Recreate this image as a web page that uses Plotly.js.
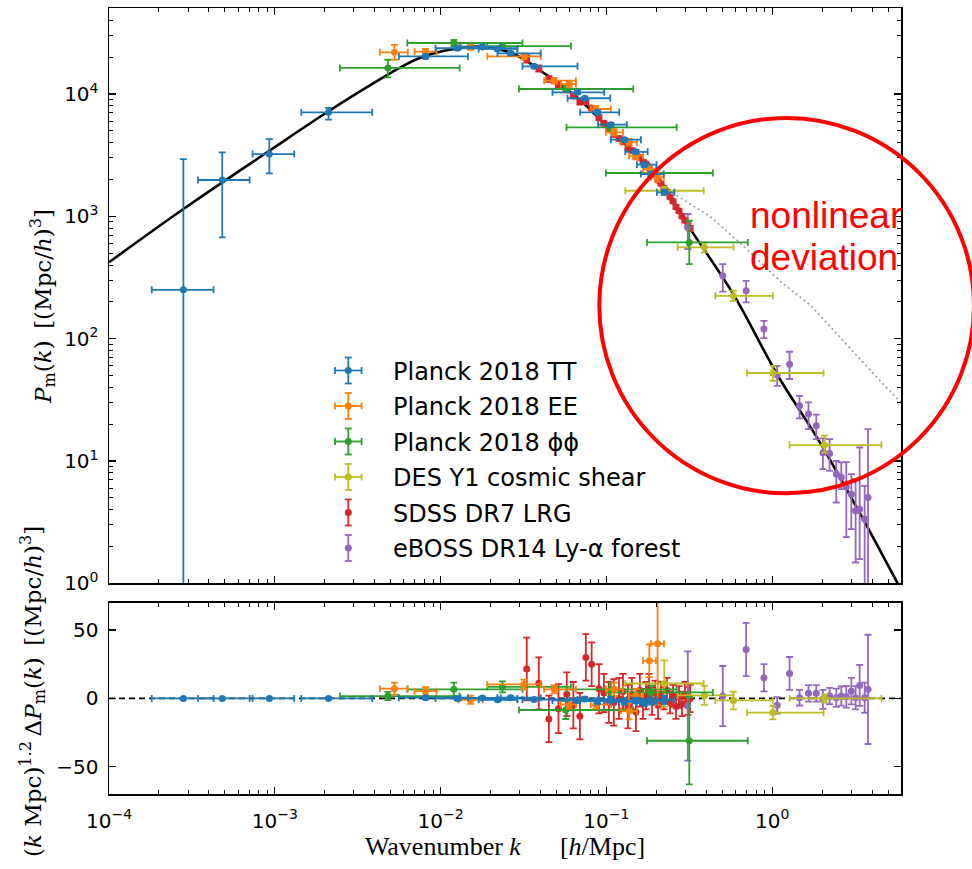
<!DOCTYPE html>
<html><head><meta charset="utf-8">
<script src="https://cdn.plot.ly/plotly-3.0.1.min.js"></script>
<style>html,body{margin:0;padding:0;background:#fff}#chart{width:972px;height:869px}</style>
</head><body><div id="chart"></div>
<script>
// ---------- theory curves ----------
const curveK = [1e-4, 2.81e-4, 9.27e-4, 2.11e-3, 4.35e-3, 5.73e-3, 7.93e-3, 0.0120, 0.01746, 0.0277, 0.0442, 0.0702, 0.1114, 0.1775, 0.2344, 0.3162, 0.591, 1.082, 1.888, 3.45, 5.61, 6.19];
const curveP = [421, 1148, 3436, 7230, 13270, 16520, 20320, 23340, 24370, 21230, 14120, 8820, 4710, 2594, 1549, 813, 224, 49.8, 15.1, 3.56, 1.05, 0.83];
const nlK = [0.2355, 0.338, 0.4276, 0.650, 1.133, 1.722, 2.723, 4.367, 6.19];
const nlP = [1641, 1214, 987, 594, 290, 185, 93.8, 46.8, 28.7];

// ---------- Planck 2018 TT ----------
const ttK   = [2.81e-4, 4.82e-4, 9.27e-4, 2.11e-3, 8.12e-3, 0.01262, 0.01786, 0.02203, 0.02649, 0.03664, 0.0670, 0.0741, 0.0885, 0.1064, 0.1282, 0.1507, 0.1690, 0.1857, 0.2235];
const ttKlo = [1.81e-4, 3.44e-4, 7.34e-4, 1.445e-3, 5.60e-3, 9.33e-3, 0.01321, 0.01698, 0.02203, 0.03119, 0.0473, 0.0583, 0.0695, 0.0891, 0.1064, 0.1300, 0.1528, 0.1614, 0.2018];
const ttKhi = [4.27e-4, 7.05e-4, 1.31e-3, 3.87e-3, 0.01462, 0.02904, 0.02307, 0.02904, 0.04018, 0.06699, 0.0970, 0.1055, 0.1194, 0.1330, 0.1614, 0.1775, 0.2009, 0.2218, 0.2570];
const ttP   = [251, 1982, 3228, 7080, 20300, 23650, 24370, 23340, 21520, 16830, 10320, 9230, 7080, 5610, 4230, 3370, 2643, 2218, 1570];
const ttPlo = [0.5, 673, 2248, 6170, 19500, 22950, 23770, 22740, 20920, 16330, 9970, 8930, 6830, 5410, 4080, 3250, 2543, 2128, 1500];
const ttPhi = [2940, 3334, 4285, 7690, 21100, 24350, 24970, 23940, 22120, 17330, 10670, 9530, 7330, 5810, 4380, 3490, 2743, 2308, 1640];
const ttRes    = [0, 0, 0, 0, 0.5, 0, 0.3, -1, 0.5, -0.8, -1.5, -0.5, -2, -1, -2.5, -1.5, -3, -2, -1];
const ttResErr = [0.3, 0.4, 0.5, 0.6, 1, 1, 1, 1, 1.2, 1.2, 1.5, 1.5, 2, 2, 2, 2, 2.5, 2.5, 3];

// ---------- Planck 2018 EE ----------
const eeK   = [5.27e-3, 8.12e-3, 0.01517, 0.03185, 0.0484, 0.0596, 0.0865, 0.1114, 0.1374, 0.1507, 0.1815, 0.2037];
const eeKlo = [4.30e-3, 6.97e-3, 0.01285, 0.01914, 0.0421, 0.0531, 0.0805, 0.0993, 0.1224, 0.1368, 0.1663, 0.1857];
const eeKhi = [6.34e-3, 9.46e-3, 0.01795, 0.04018, 0.0655, 0.0655, 0.1064, 0.1259, 0.1528, 0.1663, 0.1990, 0.2224];
const eeP   = [21930, 22180, 24100, 20320, 12850, 12070, 7540, 4860, 4030, 3130, 2438, 2094];
const eePlo = [19060, 21000, 23000, 19200, 12150, 11420, 7120, 4560, 3780, 2930, 2270, 1920];
const eePhi = [25170, 23400, 25200, 21400, 13550, 12720, 7960, 5160, 4280, 3330, 2610, 2270];
const eeRes    = [7.1, 5.3, -1, 10.2, 6.6, -4.4, -4.4, 6.6, -9.3, 2, 27.5, 40];
const eeResErr = [4.4, 3, 3, 3.5, 3, 3, 3, 5, 6, 5, 12, 45];

// ---------- Planck 2018 phi-phi ----------
const ppK   = [4.81e-3, 0.01202, 0.02360, 0.0569, 0.1064, 0.1857, 0.3162];
const ppKlo = [2.47e-3, 6.30e-3, 0.01914, 0.0297, 0.0575, 0.0993, 0.1758];
const ppKhi = [0.01303, 0.03119, 0.0611, 0.1452, 0.2655, 0.4385, 0.7129];
const ppP   = [16330, 26120, 24660, 10990, 5340, 2261, 612];
const ppPlo = [13700, 24550, 23340, 10360, 4950, 2095, 407];
const ppPhi = [19060, 27670, 26120, 11660, 5760, 2440, 920];
const ppRes    = [1.7, 6.6, 8.4, -8.5, 6.6, 4.4, -31];
const ppResErr = [3, 5, 4, 6.6, 5, 5, 32];

// ---------- DES Y1 cosmic shear ----------
const desK   = [0.2235, 0.390, 0.5834, 1.009, 2.070];
const desKlo = [0.1300, 0.2692, 0.4539, 0.7063, 1.273];
const desKhi = [0.3864, 0.5834, 1.009, 2.042, 4.56];
const desP   = [1618, 558, 224, 52.4, 13.5];
const desPlo = [1500, 508, 204, 45.3, 11.7];
const desPhi = [1740, 612, 247, 60.0, 16.1];
const desRes    = [10.9, 2.2, -1.5, -10.4, 0];
const desResErr = [17, 7, 6.5, 5, 3];

// ---------- SDSS DR7 LRG ----------
const lrgK = [0.0331, 0.0391, 0.0450, 0.0514, 0.0577, 0.0632, 0.0692, 0.0752, 0.0815, 0.0902, 0.0966, 0.1035, 0.1109, 0.1191, 0.1259, 0.1349, 0.1425, 0.1507, 0.1592, 0.1663, 0.1734, 0.1808, 0.1885, 0.1965, 0.2048, 0.2135, 0.2225, 0.2320, 0.2421, 0.2523, 0.2630, 0.2742, 0.2858, 0.2979, 0.3105, 0.3199];
const lrgP = [19410, 16180, 13280, 11850, 10820, 9670, 8630, 8650, 7680, 6400, 5770, 5160, 4700, 4330, 4070, 3640, 3460, 3130, 3020, 2800, 2690, 2540, 2310, 2165, 1970, 1850, 1703, 1594, 1437, 1330, 1195, 1107, 1003, 929, 841, 798];
const lrgPerr = [1373, 931, 702, 634, 491, 467, 419, 379, 325, 323, 231, 228, 238, 193, 156, 177, 124, 136, 109, 95, 82, 86, 74, 63, 67, 57, 49, 52, 44, 42, 45, 38, 40, 38, 41, 39];
const lrgRes    = [21.5, 11, -15, -7.5, 3, -5, -13, 30, 25, 7, 4, -3, -3, 0, 5, -6, 3, -10, 6, -4, 2, 7, -2, 4, -5, 3, 0, 6, -3, 2, -6, 1, -4, 3, -2, 0];
const lrgResErr = [23, 19, 17, 18, 16, 17, 17, 17, 16, 18, 14, 15, 17, 15, 13, 16, 12, 14, 12, 11, 10, 11, 10, 9, 10, 9, 8, 9, 8, 8, 9, 8, 9, 9, 10, 10];

// ---------- eBOSS DR14 Ly-alpha forest ----------
const lyK   = [0.3097, 0.5035, 0.6966, 0.8917, 1.072, 1.273, 1.462, 1.656, 1.845, 2.024, 2.220, 2.436, 2.612, 2.800, 3.002, 3.186, 3.371, 3.612, 3.786];
const lyP   = [813, 327, 247, 120, 50.4, 61.9, 28.3, 24.2, 19.4, 11.7, 11.5, 7.82, 7.35, 6.12, 5.36, 3.92, 4.04, 3.35, 5.04];
const lyPlo = [541, 242, 198, 101, 41.2, 46.8, 22.3, 18.2, 15.1, 8.59, 8.32, 4.58, 5.89, 2.39, 2.77, 1.48, 1.58, 0.5, 0.4];
const lyPhi = [1045, 407, 297, 140, 60.0, 78.2, 34.1, 30.1, 23.9, 15.3, 15.1, 10.0, 9.75, 9.80, 7.82, 7.11, 12.9, 6.27, 18.2];
const lyRes    = [-5.6, 1.7, 35.8, 15.1, -5.1, 18.3, 0.5, 3.7, 3.7, -0.7, 1.7, 0.5, 1.7, 1.2, 5.3, 0.5, 9.5, 0.5, 6.6];
const lyResErr = [40, 22, 19.5, 10, 6, 12, 5.7, 6, 6, 7, 6, 6.7, 7, 8, 9.7, 8.5, 15, 11, 40];

// ---------- labels ----------
const legendNames = ['Planck 2018 TT', 'Planck 2018 EE', 'Planck 2018 \u03d5\u03d5', 'DES Y1 cosmic shear', 'SDSS DR7 LRG', 'eBOSS DR14 Ly-\u03b1 forest'];
const xTickVals = [1e-4, 1e-3, 1e-2, 1e-1, 1];
const xTickText = ['10<sup>\u22124</sup>', '10<sup>\u22123</sup>', '10<sup>\u22122</sup>', '10<sup>\u22121</sup>', '10<sup>0</sup>'];
const yTickVals = [1, 10, 100, 1000, 10000];
const yTickText = ['10<sup>0</sup>', '10<sup>1</sup>', '10<sup>2</sup>', '10<sup>3</sup>', '10<sup>4</sup>'];
const yTitleTop = '<i>P</i><sub>m</sub>(<i>k</i>)\u2002[(Mpc/<i>h</i>)<sup>3</sup>]';
const yTitleBot = '(<i>k</i> Mpc)<sup>1.2</sup>\u2009\u0394<i>P</i><sub>m</sub>(<i>k</i>)\u2002[(Mpc/<i>h</i>)<sup>3</sup>]';
const xTitle = 'Wavenumber <i>k</i>\u2003\u2002[<i>h</i>/Mpc]';

const COL = {tt:'#1f77b4', ee:'#ff7f0e', pp:'#2ca02c', des:'#bcbd22', lrg:'#d62728', ly:'#9467bd'};

const diff = (a, b) => a.map((v, i) => v - b[i]);
const EB = {thickness:1.8, width:3.5};

function errSet(k, klo, khi, p, plo, phi, res, resErr, color, name) {
  const top = {type:'scatter', mode:'markers', name, x:k, y:p, xaxis:'x', yaxis:'y',
    marker:{color, size:7}, hoverinfo:'skip',
    error_y:{type:'data', symmetric:false, array:diff(phi, p), arrayminus:diff(p, plo), color, ...EB}};
  const bot = {type:'scatter', mode:'markers', name, x:k, y:res, xaxis:'x2', yaxis:'y2',
    marker:{color, size:7}, hoverinfo:'skip',
    error_y:{type:'data', array:resErr, color, ...EB}};
  if (klo) {
    const ex = {type:'data', symmetric:false, array:diff(khi, k), arrayminus:diff(k, klo), color, ...EB};
    top.error_x = ex; bot.error_x = ex;
  }
  return [top, bot];
}

const traces = [
  {type:'scatter', mode:'lines', x:nlK, y:nlP, xaxis:'x', yaxis:'y', line:{color:'#999', width:1.6, dash:'2px,3px'}, hoverinfo:'skip'},
  {type:'scatter', mode:'lines', x:curveK, y:curveP, xaxis:'x', yaxis:'y', line:{color:'#000', width:2.6, shape:'spline', smoothing:1}, hoverinfo:'skip'},
  ...errSet(lrgK, null, null, lrgP, diff(lrgP, lrgPerr), lrgP.map((v,i)=>v+lrgPerr[i]), lrgRes, lrgResErr, COL.lrg, legendNames[4]),
  ...errSet(lyK, null, null, lyP, lyPlo, lyPhi, lyRes, lyResErr, COL.ly, legendNames[5]),
  ...errSet(desK, desKlo, desKhi, desP, desPlo, desPhi, desRes, desResErr, COL.des, legendNames[3]),
  ...errSet(ppK, ppKlo, ppKhi, ppP, ppPlo, ppPhi, ppRes, ppResErr, COL.pp, legendNames[2]),
  ...errSet(eeK, eeKlo, eeKhi, eeP, eePlo, eePhi, eeRes, eeResErr, COL.ee, legendNames[1]),
  ...errSet(ttK, ttKlo, ttKhi, ttP, ttPlo, ttPhi, ttRes, ttResErr, COL.tt, legendNames[0]),
];

// ---------- layout helpers ----------
const ML = 109, MR = 71, MT = 8, MB = 75, W = 972, H = 869;
const PW = W - ML - MR, PH = H - MT - MB;
const px2x = px => (px - ML) / PW;
const py2y = py => (H - MB - py) / PH;

function minorLog(a, b) { const v = []; for (let e = a; e < b; e++) for (let m = 2; m <= 9; m++) v.push(m * Math.pow(10, e)); return v; }

const tickFont = {family:'DejaVu Sans, sans-serif', size:20, color:'#000'};
const serif = {family:'Liberation Serif, Times New Roman, serif', size:26, color:'#000'};
const serifY = {family:'DejaVu Serif, serif', size:23, color:'#000'};
const axBase = {showline:true, linecolor:'#000', linewidth:1.5, mirror:'allticks', ticks:'inside', ticklen:7, tickwidth:1.3, tickcolor:'#000', showgrid:false, zeroline:false, tickfont:tickFont, ticklabelstandoff:5};
const logX = {...axBase, type:'log', range:[-4, 0.777], tickmode:'array', tickvals:xTickVals, ticktext:xTickText,
  minor:{tickmode:'array', tickvals:minorLog(-4, 1), ticks:'inside', ticklen:4, tickwidth:1, tickcolor:'#000', showgrid:false}};

// legend drawn as shapes + annotations
const legY = [370.5, 406, 441.5, 477, 512.5, 548];
const legColors = [COL.tt, COL.ee, COL.pp, COL.des, COL.lrg, COL.ly];
const legHasX = [true, true, true, true, false, false];
const shapes = [];
const annotations = [];
const icx = 348.3, hw = 13.3, vh = 13, cap = 3.5;
legY.forEach((cy, i) => {
  const c = legColors[i];
  const ln = {color:c, width:1.8};
  const L = (x0, y0, x1, y1) => shapes.push({type:'line', xref:'paper', yref:'paper', x0:px2x(x0), y0:py2y(y0), x1:px2x(x1), y1:py2y(y1), line:ln});
  L(icx, cy - vh, icx, cy + vh);
  L(icx - cap, cy - vh, icx + cap, cy - vh);
  L(icx - cap, cy + vh, icx + cap, cy + vh);
  if (legHasX[i]) {
    L(icx - hw, cy, icx + hw, cy);
    L(icx - hw, cy - cap, icx - hw, cy + cap);
    L(icx + hw, cy - cap, icx + hw, cy + cap);
  }
  shapes.push({type:'circle', xref:'paper', yref:'paper', x0:px2x(icx - 3.5), x1:px2x(icx + 3.5), y0:py2y(cy + 3.5), y1:py2y(cy - 3.5), fillcolor:c, line:{color:c, width:0}});
  annotations.push({xref:'paper', yref:'paper', x:px2x(391), y:py2y(cy + 1), xanchor:'left', yanchor:'middle', showarrow:false, text:legendNames[i], font:{family:'DejaVu Sans, sans-serif', size:24, color:'#000'}});
});

// y-axis titles (placed as rotated annotations)
annotations.push({xref:'paper', yref:'paper', x:px2x(42), y:py2y(307), xanchor:'center', yanchor:'middle', textangle:-90, showarrow:false, text:yTitleTop, font:serifY});
annotations.push({xref:'paper', yref:'paper', x:px2x(32), y:py2y(692), xanchor:'center', yanchor:'middle', textangle:-90, showarrow:false, text:yTitleBot, font:serifY});

// zero line in residual panel
shapes.push({type:'line', xref:'x2 domain', x0:0, x1:1, yref:'y2', y0:0, y1:0, layer:'below', line:{color:'#000', width:1.8, dash:'6px,4px'}});
// red circle
shapes.push({type:'circle', xref:'paper', yref:'paper', x0:px2x(599.3), x1:px2x(974), y0:py2y(493.3), y1:py2y(118), line:{color:'#ff0000', width:4}});
annotations.push({xref:'paper', yref:'paper', x:px2x(826), y:py2y(215), xanchor:'center', yanchor:'middle', showarrow:false, text:'nonlinear', font:{family:'Liberation Sans, Arial, sans-serif', size:37, color:'#ff0000'}});
annotations.push({xref:'paper', yref:'paper', x:px2x(824), y:py2y(257.7), xanchor:'center', yanchor:'middle', showarrow:false, text:'deviation', font:{family:'Liberation Sans, Arial, sans-serif', size:37, color:'#ff0000'}});

const layout = {
  width:W, height:H, margin:{l:ML, r:MR, t:MT, b:MB}, showlegend:false,
  paper_bgcolor:'#fff', plot_bgcolor:'#fff', font:tickFont,
  xaxis:{...logX, anchor:'y', domain:[0, 1], showticklabels:false},
  yaxis:{...axBase, type:'log', range:[0, 4.703], domain:[0.268, 1], anchor:'x', tickmode:'array', tickvals:yTickVals, ticktext:yTickText,
    minor:{tickmode:'array', tickvals:minorLog(0, 5), ticks:'inside', ticklen:4, tickwidth:1, tickcolor:'#000', showgrid:false}},
  xaxis2:{...logX, anchor:'y2', domain:[0, 1], matches:'x', ticklabelstandoff:8,
    title:{text:xTitle, font:serif, standoff:4}},
  yaxis2:{...axBase, range:[-70, 70], domain:[0, 0.2433], anchor:'x2', tickmode:'array', tickvals:[-50, 0, 50]},
  shapes, annotations
};

Plotly.newPlot('chart', traces, layout, {staticPlot:true, displayModeBar:false});
</script>
</body></html>
